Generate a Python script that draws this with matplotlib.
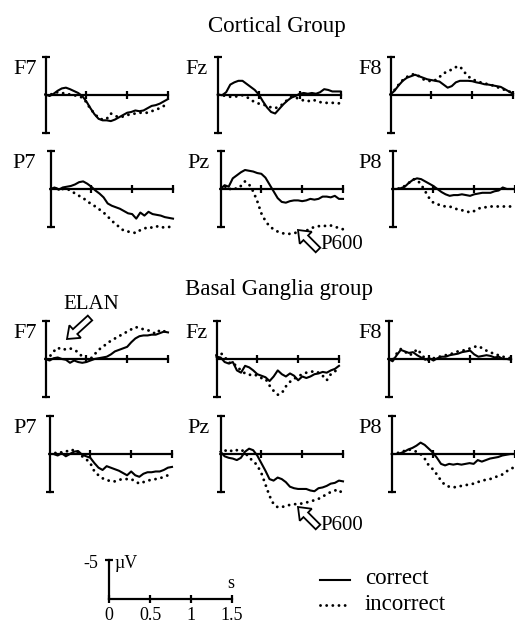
import matplotlib
matplotlib.use("Agg")
import matplotlib.pyplot as plt
from matplotlib.lines import Line2D
from matplotlib.patches import FancyArrow
from matplotlib.transforms import IdentityTransform

plt.rcParams['font.family'] = ['Liberation Serif', 'DejaVu Serif']

# ---------------- data (µV, negative plotted upward) ----------------
time_s = [0.00, 0.05, 0.10, 0.15, 0.20, 0.25, 0.30, 0.35, 0.40, 0.45,
          0.50, 0.55, 0.60, 0.65, 0.70, 0.75, 0.80, 0.85, 0.90, 0.95,
          1.00, 1.05, 1.10, 1.15, 1.20, 1.25, 1.30, 1.35, 1.40, 1.45, 1.50]

# Cortical group
cort_F7_correct = [0, 0.2, -0.1, -0.5, -0.8, -0.9, -0.7, -0.45, -0.2, 0.2, 0.9, 1.8, 2.6, 3.2, 3.4, 3.4,
                   3.5, 3.3, 3.0, 2.7, 2.4, 2.3, 2.1, 2.2, 2.1, 1.8, 1.5, 1.4, 1.2, 0.9, 0.6]
cort_F7_incorrect = [0, 0.1, -0.2, -0.3, -0.2, -0.1, 0, 0.1, 0.2, 0.4, 1.0, 1.9, 2.5, 3.1, 3.3, 3.2,
                     2.5, 2.8, 3.0, 2.9, 2.7, 2.6, 2.5, 2.4, 2.4, 2.4, 2.2, 2.0, 1.8, 1.5, 1.5]
cort_Fz_correct = [0, 0.1, -0.3, -1.3, -1.6, -1.8, -1.8, -1.4, -1.0, -0.6, 0, 0.9, 1.7, 2.3, 2.5, 1.9,
                   1.3, 0.8, 0.4, 0.2, -0.1, -0.2, -0.1, -0.2, -0.1, -0.3, -0.7, -0.6, -0.4, -0.4, -0.4]
cort_Fz_incorrect = [0, 0.1, 0.2, 0.3, 0.3, 0.2, 0.1, 0.3, 0.7, 1.0, 1.2, 1.3, 1.5, 1.7, 1.8, 1.6,
                     1.2, 0.7, 0.3, 0.4, 0.6, 0.8, 0.9, 0.7, 0.8, 1.0, 1.1, 1.1, 1.1, 1.1, 1.2]
cort_F8_correct = [0, -0.5, -1.2, -1.8, -2.2, -2.4, -2.6, -2.4, -2.2, -2.0, -1.9, -1.8, -1.7, -1.3, -0.9, -1.1,
                   -1.6, -1.8, -1.8, -1.8, -1.75, -1.6, -1.5, -1.35, -1.3, -1.2, -1.1, -1.0, -0.7, -0.4, -0.1]
cort_F8_incorrect = [0, -0.6, -1.3, -1.9, -2.3, -2.6, -2.7, -2.4, -2.0, -1.9, -1.7, -1.9, -2.3, -2.8, -3.0, -3.3,
                     -3.6, -3.7, -3.0, -2.4, -2.0, -1.8, -1.6, -1.5, -1.3, -1.2, -1.0, -0.8, -0.6, -0.4, -0.2]
cort_P7_correct = [0, -0.2, 0.1, -0.2, -0.3, -0.4, -0.6, -0.9, -1.0, -0.7, -0.3, 0.2, 0.6, 1.1, 1.9, 2.2,
                   2.4, 2.6, 2.9, 3.2, 3.3, 3.9, 3.1, 3.5, 3.0, 3.3, 3.4, 3.5, 3.7, 3.8, 3.9]
cort_P7_incorrect = [0, -0.1, 0, 0, 0, 0.2, 0.6, 0.9, 1.2, 1.6, 2.0, 2.3, 2.7, 3.1, 3.6, 4.2,
                     4.6, 5.1, 5.5, 5.6, 5.7, 5.8, 5.4, 5.2, 5.0, 5.1, 4.9, 5.1, 5.0, 5.0, 4.9]
cort_Pz_correct = [0, -0.5, -0.3, -1.4, -1.8, -2.2, -2.5, -2.4, -2.3, -2.1, -2.0, -1.5, -0.6, 0.3, 1.2, 1.7,
                   1.8, 1.6, 1.5, 1.5, 1.6, 1.5, 1.3, 1.4, 1.3, 1.0, 1.0, 1.1, 0.9, 1.3, 1.3]
cort_Pz_incorrect = [0, -0.4, 0.1, -0.2, 0, -0.4, -1.0, -0.6, 0.3, 1.6, 3.2, 4.2, 4.9, 5.3, 5.6, 5.8,
                     5.9, 5.9, 5.8, 5.7, 5.6, 5.5, 5.2, 5.0, 4.9, 4.8, 4.9, 4.8, 5.0, 5.1, 5.3]
cort_P8_correct = [0, 0, -0.1, -0.3, -0.8, -1.2, -1.4, -1.3, -1.0, -0.7, -0.4, 0, 0.4, 0.7, 0.9, 0.8,
                   0.8, 0.7, 0.8, 0.9, 0.7, 0.6, 0.5, 0.5, 0.5, 0.3, 0.2, -0.2, 0, 0, 0]
cort_P8_incorrect = [0, 0, -0.1, -0.4, -0.8, -1.3, -1.2, -0.6, 0.3, 1.2, 1.8, 2.0, 2.2, 2.3, 2.3, 2.5,
                     2.7, 2.8, 2.9, 3.1, 2.9, 2.6, 2.4, 2.4, 2.3, 2.3, 2.3, 2.3, 2.3, 2.3, 2.3]

# Basal ganglia group
bg_F7_correct = [0, 0.2, -0.1, -0.2, 0, 0.1, 0.5, 0.2, 0.4, 0.5, 0.4, 0.2, 0, -0.1, -0.2, -0.3,
                 -0.6, -1.0, -1.2, -1.4, -1.6, -2.2, -2.7, -3.0, -3.1, -3.1, -3.2, -3.2, -3.4, -3.6, -3.5]
bg_F7_incorrect = [0, -0.3, -1.0, -1.5, -1.2, -1.3, -1.4, -1.2, -0.9, -0.3, 0, 0, -0.6, -1.2, -1.6, -2.0,
                   -2.4, -2.7, -3.0, -3.3, -3.6, -3.9, -4.2, -4.1, -3.9, -3.8, -3.6, -3.3, -3.8, -3.6, -4.0]
bg_Fz_correct = [-0.3, -0.2, 0.4, 0.6, 0.4, 1.5, 1.8, 0.9, 1.1, 1.5, 2.0, 2.2, 2.4, 2.9, 2.3, 1.5,
                 2.0, 2.3, 1.9, 2.2, 2.8, 2.3, 2.5, 2.3, 2.0, 1.9, 1.7, 1.8, 1.5, 1.3, 0.9]
bg_Fz_incorrect = [-0.5, -0.8, -0.3, 0.5, 0.5, 1.0, 1.5, 1.9, 2.1, 2.0, 2.2, 2.5, 2.6, 3.5, 4.2, 4.7,
                   4.5, 3.6, 3.0, 2.6, 2.3, 2.0, 1.8, 1.7, 1.6, 1.8, 2.2, 2.8, 2.0, 1.6, 1.4]
bg_F8_correct = [0, 0.3, -0.5, -1.2, -1.0, -0.8, -0.9, -0.5, -0.2, 0.1, -0.1, 0.2, -0.1, -0.3, -0.3, -0.5,
                 -0.6, -0.7, -0.9, -1.0, -1.1, -0.6, -0.3, -0.4, -0.5, -0.4, -0.2, -0.3, 0, 0, 0.1]
bg_F8_incorrect = [0, 0.2, -0.7, -1.3, -1.0, -0.5, -0.7, -1.3, -0.7, 0, 0.2, -0.1, -0.2, -0.4, -0.5, -0.6,
                   -0.8, -1.0, -1.1, -1.2, -1.4, -1.6, -1.7, -1.4, -1.1, -0.9, -0.6, -0.5, -0.3, -0.2, -0.1]
bg_P7_correct = [0, 0, 0.2, -0.1, 0.3, 0, -0.3, -0.4, 0.1, 0.3, 0.5, 1.2, 1.8, 2.1, 1.6, 1.8,
                 2.0, 2.2, 2.5, 2.8, 2.3, 2.8, 3.0, 2.6, 2.4, 2.4, 2.3, 2.3, 2.1, 1.8, 1.7]
bg_P7_incorrect = [0, 0, -0.3, -0.2, -0.4, -0.3, -0.6, -0.2, 0.3, 0.7, 1.2, 2.3, 2.8, 3.2, 3.4, 3.6,
                   3.6, 3.4, 3.3, 3.3, 3.3, 3.6, 3.9, 3.7, 3.5, 3.4, 3.3, 3.2, 3.0, 2.8, 2.4]
bg_Pz_correct = [-0.3, 0.3, 0.5, 0.6, 0.8, 0.5, -0.3, -0.7, -0.5, 0.2, 1.2, 2.2, 3.3, 3.5, 3.1, 3.3,
                 3.7, 4.3, 4.5, 4.6, 4.6, 4.6, 4.8, 4.9, 4.5, 4.4, 4.2, 3.9, 3.8, 3.5, 3.6]
bg_Pz_incorrect = [0, -0.4, -0.6, -0.3, -0.5, -0.6, -0.2, 0.5, 0.9, 1.5, 2.5, 4.0, 5.5, 6.6, 7.0, 7.0,
                   6.8, 6.7, 6.6, 6.6, 6.5, 6.4, 6.2, 6.1, 5.9, 5.6, 5.3, 5.0, 4.8, 4.7, 5.3]
bg_P8_correct = [0, 0, -0.1, -0.3, -0.6, -0.8, -1.1, -1.5, -1.2, -0.7, -0.2, 0.5, 1.3, 1.5, 1.3, 1.4,
                 1.3, 1.4, 1.3, 1.2, 1.3, 0.8, 1.0, 0.8, 0.6, 0.5, 0.4, 0.2, 0.1, 0, 0]
bg_P8_incorrect = [0, -0.1, -0.2, -0.4, -0.6, -0.5, -0.3, 0, 0.6, 1.5, 2.0, 2.7, 3.5, 4.1, 4.3, 4.4,
                   4.3, 4.2, 4.1, 4.0, 3.9, 3.7, 3.5, 3.4, 3.3, 3.1, 2.9, 2.7, 2.3, 2.0, 1.7]

group_titles = ["Cortical Group", "Basal Ganglia group"]
scale_ticks = [0, 0.5, 1, 1.5]
scale_tick_labels = ["0", "0.5", "1", "1.5"]
legend_labels = ["correct", "incorrect"]

# ---------------- layout ----------------
W, H = 515, 623
fig = plt.figure(figsize=(W / 100, H / 100), dpi=100)
fig.patch.set_facecolor('white')

PW, PH = 122.5, 76.0
LW = 1.6
DOT = dict(linestyle=(0, (0.01, 2.1)), dash_capstyle='round', lw=2.1, color='black')

def add_px_axes(x, ytop, w, h):
    return fig.add_axes([x / W, 1 - (ytop + h) / H, w / W, h / H])

def fig_text(x, y, s, **kw):
    fig.text(x / W, 1 - y / H, s, **kw)

panels = [
    # label, bar x, bar top, label right x, correct, incorrect
    ("F7", 45.5, 56.5, 37, cort_F7_correct, cort_F7_incorrect),
    ("Fz", 218.0, 56.5, 208, cort_Fz_correct, cort_Fz_incorrect),
    ("F8", 390.5, 56.5, 382, cort_F8_correct, cort_F8_incorrect),
    ("P7", 50.5, 151.0, 36, cort_P7_correct, cort_P7_incorrect),
    ("Pz", 220.5, 151.0, 210, cort_Pz_correct, cort_Pz_incorrect),
    ("P8", 392.5, 151.0, 382, cort_P8_correct, cort_P8_incorrect),
    ("F7", 45.5, 321.0, 37, bg_F7_correct, bg_F7_incorrect),
    ("Fz", 216.5, 321.0, 208, bg_Fz_correct, bg_Fz_incorrect),
    ("F8", 388.5, 321.0, 382, bg_F8_correct, bg_F8_incorrect),
    ("P7", 49.5, 416.0, 37, bg_P7_correct, bg_P7_incorrect),
    ("Pz", 220.5, 416.0, 210, bg_Pz_correct, bg_Pz_incorrect),
    ("P8", 392.0, 416.0, 382, bg_P8_correct, bg_P8_incorrect),
]

for label, bx, btop, lx, corr, inc in panels:
    ax = add_px_axes(bx, btop, PW, PH)
    ax.patch.set_alpha(0)
    ax.set_xlim(0, 1.5)
    ax.set_ylim(5, -5)
    for s in ('top', 'right'):
        ax.spines[s].set_visible(False)
    ax.spines['left'].set_position(('data', 0))
    ax.spines['bottom'].set_position(('data', 0))
    ax.spines['left'].set_bounds(-5, 5)
    ax.spines['bottom'].set_bounds(0, 1.5)
    for s in ('left', 'bottom'):
        ax.spines[s].set_linewidth(LW)
    ax.set_yticks([-5, 5])
    ax.set_xticks([0.5, 1.0, 1.5])
    ax.tick_params(axis='both', direction='inout', length=6, width=LW,
                   labelleft=False, labelbottom=False)
    ax.plot(time_s, corr, color='black', lw=1.5, clip_on=False, zorder=3)
    ax.plot(time_s, inc, clip_on=False, zorder=3, **DOT)
    fig_text(lx, btop + 17, label, ha='right', va='baseline', fontsize=16)

# group titles
fig_text(277, 32, group_titles[0], ha='center', va='baseline', fontsize=16.5)
fig_text(279, 295, group_titles[1], ha='center', va='baseline', fontsize=16.5)

# hollow arrows (pixel coordinates, y measured from top)
def hollow_arrow(tail, tip):
    x0, y0 = tail[0], H - tail[1]
    x1, y1 = tip[0], H - tip[1]
    a = FancyArrow(x0, y0, x1 - x0, y1 - y0, width=6.5, head_width=17, head_length=11,
                   length_includes_head=True, transform=IdentityTransform(),
                   facecolor='white', edgecolor='black', lw=1.3)
    fig.patches.append(a)
    a.set_figure(fig)

hollow_arrow((318, 250), (298, 230))
fig_text(320, 249, "P600", ha='left', va='baseline', fontsize=15)
hollow_arrow((318, 527), (298, 507))
fig_text(320, 530, "P600", ha='left', va='baseline', fontsize=15)
hollow_arrow((90, 318), (67, 339))
fig_text(63, 309, "ELAN", ha='left', va='baseline', fontsize=15)

# scale bar
sax = add_px_axes(109, 560, 123, 39)
sax.patch.set_alpha(0)
sax.set_xlim(0, 1.5)
sax.set_ylim(0, -5)
for s in ('top', 'right'):
    sax.spines[s].set_visible(False)
sax.spines['left'].set_position(('data', 0))
sax.spines['bottom'].set_position(('data', 0))
for s in ('left', 'bottom'):
    sax.spines[s].set_linewidth(LW)
sax.set_yticks([-5])
sax.set_xticks(scale_ticks, scale_tick_labels)
sax.tick_params(axis='both', direction='inout', length=6, width=LW, labelleft=False,
                labelsize=13, pad=2.5)
fig_text(98, 568, "-5", ha='right', va='baseline', fontsize=13)
fig_text(114, 568, "µV", ha='left', va='baseline', fontsize=13)
fig_text(231, 588, "s", ha='center', va='baseline', fontsize=13)

# legend
fig.add_artist(Line2D([320 / W, 350 / W], [1 - 580 / H, 1 - 580 / H], color='black', lw=1.5))
fig.add_artist(Line2D([320 / W, 350 / W], [1 - 605 / H, 1 - 605 / H], **DOT))
fig_text(365, 584, legend_labels[0], ha='left', va='baseline', fontsize=16.5)
fig_text(365, 610, legend_labels[1], ha='left', va='baseline', fontsize=16.5)

fig.savefig("out.png", dpi=100, facecolor='white')
